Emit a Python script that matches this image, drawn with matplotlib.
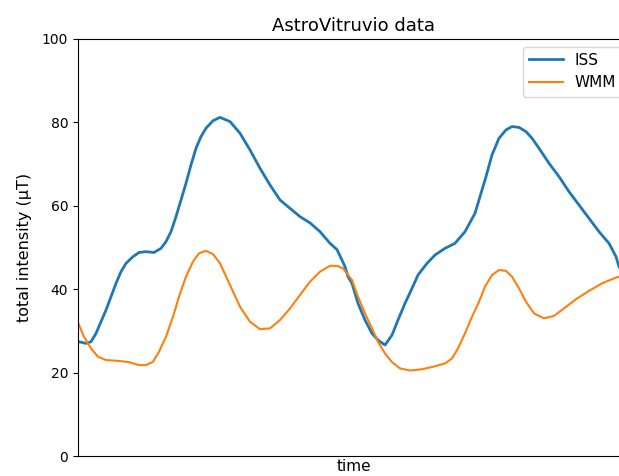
import matplotlib.pyplot as plt

# time in arbitrary units (sample position along the track)
t_iss = [1, 8, 13, 18, 23, 28, 33, 38, 43, 48, 55, 61, 68, 76, 83, 88, 93, 98,
         103, 108, 113, 118, 123, 128, 135, 142, 152, 162, 172, 182, 192, 202,
         212, 222, 232, 242, 252, 259, 262, 267, 270, 274, 280, 287, 294, 300,
         307, 314, 320, 327, 334, 340, 349, 357, 367, 377, 387, 397, 401, 405,
         408, 414, 421, 428, 434, 441, 448, 454, 461, 471, 481, 491, 501, 511,
         521, 531, 538, 541, 550]
iss = [27.4, 27.0, 27.4, 29.4, 32.2, 35.0, 38.2, 41.4, 44.2, 46.2, 47.8, 48.8,
       49.0, 48.8, 49.8, 51.4, 53.8, 57.4, 61.4, 65.4, 69.8, 73.8, 76.6, 78.6,
       80.4, 81.2, 80.2, 77.4, 73.4, 69.0, 65.0, 61.4, 59.4, 57.4, 55.9, 53.8,
       51.0, 49.5, 48.0, 45.4, 43.0, 41.4, 36.6, 32.6, 29.4, 27.8, 26.6, 29.0,
       32.6, 36.6, 40.2, 43.4, 46.2, 48.2, 49.8, 51.0, 53.8, 58.2, 61.4, 64.6,
       67.0, 72.2, 76.2, 78.2, 79.0, 78.8, 77.8, 76.2, 73.8, 70.2, 67.0, 63.4,
       60.2, 57.0, 53.8, 51.0, 47.8, 45.4, 42.0]

t_wmm = [0, 6, 13, 20, 28, 41, 51, 61, 68, 75, 81, 88, 95, 101, 108, 115, 121,
         128, 135, 142, 152, 162, 172, 182, 192, 202, 212, 222, 232, 242, 252,
         259, 265, 274, 280, 287, 294, 300, 307, 314, 322, 332, 344, 355, 367,
         374, 380, 387, 394, 400, 407, 414, 421, 428, 434, 441, 448, 456, 466,
         476, 486, 498, 511, 524, 538, 550]
wmm = [32.0, 28.6, 25.8, 23.8, 23.0, 22.8, 22.5, 21.8, 21.8, 22.6, 25.0, 28.6,
       33.4, 38.2, 43.0, 46.6, 48.6, 49.2, 48.4, 46.2, 41.0, 35.8, 32.2, 30.4,
       30.6, 32.6, 35.4, 38.6, 41.8, 44.2, 45.6, 45.6, 45.0, 42.2, 38.2, 34.2,
       30.6, 27.4, 24.6, 22.5, 21.0, 20.5, 20.8, 21.4, 22.2, 23.4, 25.8, 29.4,
       33.4, 36.4, 40.6, 43.4, 44.6, 44.4, 43.0, 40.2, 37.0, 34.2, 33.0, 33.6,
       35.4, 37.6, 39.6, 41.4, 42.8, 43.6]

fig = plt.figure(figsize=(6.19, 4.76), dpi=100)
ax = fig.add_axes([78 / 619, 20 / 476, 552 / 619, 417 / 476])

ax.plot(t_iss, iss, color='#1f77b4', linewidth=2.0, label='ISS')
ax.plot(t_wmm, wmm, color='#ff7f0e', linewidth=1.5, label='WMM')

ax.set_xlim(0, 552)
ax.set_ylim(0, 100)
ax.set_xticks([])
ax.tick_params(axis='y', labelsize=10)
ax.set_xlabel('time', fontsize=11, labelpad=2)
ax.set_ylabel('total intensity (µT)', fontsize=11.5, labelpad=7)
ax.set_title('AstroVitruvio data', fontsize=13)
ax.legend(loc='upper right', fontsize=11, handlelength=2.2)

fig.savefig('out.png', dpi=100)
